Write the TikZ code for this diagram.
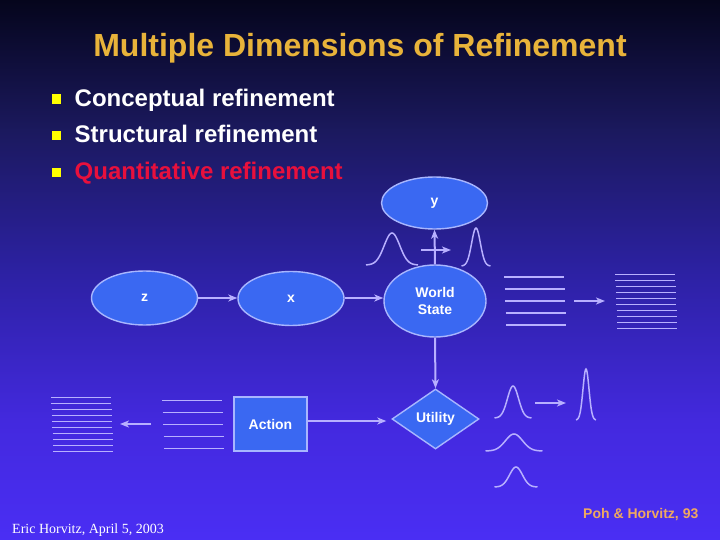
\documentclass[tikz,border=0pt]{standalone}
\usepackage{fontspec}
\setmainfont{Liberation Sans}
\newfontfamily\footserif{Liberation Serif}
\usetikzlibrary{shapes.geometric,arrows.meta}
\definecolor{bgA}{HTML}{05051C}
\definecolor{bgB}{HTML}{1B195E}
\definecolor{bgC}{HTML}{2C21A2}
\definecolor{bgD}{HTML}{4329DE}
\definecolor{bgE}{HTML}{4A2EF4}
\definecolor{titlegold}{HTML}{E8B33A}
\definecolor{bulletyellow}{HTML}{FFFF00}
\definecolor{quantred}{HTML}{E8103C}
\definecolor{nodefill}{HTML}{3A68F2}
\definecolor{nodeline}{HTML}{A8B6FF}
\definecolor{lav}{HTML}{B8B0FF}
\definecolor{cite}{HTML}{F0A860}
\newcommand\bellcurve[4]{%
  \draw[curve] plot[domain=-1:1,samples=41,smooth]
    ({#1+#2*\x},{#3-#4*exp(-((\x)*(\x))/(2*0.3*0.3))});}
\begin{document}
\begin{tikzpicture}[x=1pt,y=-1pt,
  every node/.style={inner sep=0pt},
  ell/.style={ellipse,draw=nodeline,fill=nodefill,line width=1.4pt,text=white,
    font=\bfseries\fontsize{14}{16.7}\selectfont,align=center},
  conn/.style={draw=lav,line width=2pt,-{Stealth[length=9pt,width=7pt,inset=2.5pt]}},
  rule/.style={draw=lav,line width=1.1pt},
  curve/.style={draw=lav,line width=1.5pt},
  bul/.style={fill=bulletyellow,minimum size=9.5pt},
  bultext/.style={anchor=base west,font=\bfseries\fontsize{24}{28}\selectfont}]
\useasboundingbox (0,0) rectangle (720,540);
% background
\shade[top color=bgA,bottom color=bgB] (0,0) rectangle (720,131);
\shade[top color=bgB,bottom color=bgC] (0,130) rectangle (720,271);
\shade[top color=bgC,bottom color=bgD] (0,270) rectangle (720,421);
\shade[top color=bgD,bottom color=bgE] (0,420) rectangle (720,540);
% title
\node[anchor=base,text=titlegold,font=\bfseries\fontsize{32}{38}\selectfont] (title) at (360,57) {Multiple Dimensions of Refinement};
% bullets
\node[bul] (b1) at (56.5,99) {};
\node[bul] (b2) at (56.5,135.5) {};
\node[bul] (b3) at (56.5,172.5) {};
\node[bultext,text=white] (t1) at (74.5,107) {Conceptual refinement};
\node[bultext,text=white] (t2) at (74.5,143) {Structural refinement};
\node[bultext,text=quantred] (t3) at (74.5,179.5) {Quantitative refinement};
% nodes
\node[ell,minimum width=106pt,minimum height=52pt] (y) at (434.5,203) {y};
\node[ell,minimum width=106pt,minimum height=54pt] (z) at (144.5,298) {z};
\node[ell,minimum width=106pt,minimum height=54pt] (x) at (291,298.5) {x};
\node[ell,minimum width=102pt,minimum height=72pt] (ws) at (435,301) {World\\State};
\node[draw=nodeline,fill=nodefill,line width=1.4pt,minimum width=73pt,minimum height=54pt,
  text=white,font=\bfseries\fontsize{14}{16.7}\selectfont] (act) at (270.5,424) {Action};
\node[diamond,draw=nodeline,fill=nodefill,line width=1.4pt,minimum width=87pt,minimum height=60pt,
  text=white,font=\bfseries\fontsize{14}{16.7}\selectfont] (util) at (435.5,419) {Utility};
% connectors
\draw[conn] (z.east) -- (z.east -| x.west);
\draw[conn] (x.east |- 0,298) -- (ws.west |- 0,298);
\draw[conn] (ws.north) -- (y.south);
\draw[conn] (ws.south) -- (util.north);
\draw[conn,shorten >=5pt] (act.east |- 0,421) -- (util.west |- 0,421);
% small arrow crossing the ws->y line
\coordinate (ha1) at (421,250);
\coordinate (ha2) at (451,250);
\draw[conn] (ha1) -- (ha2);
% bell curves near y
\bellcurve{392}{26}{265}{32}
\bellcurve{476}{14.5}{266}{38}
% bell curves near utility
\bellcurve{513}{18.5}{418}{32}
\bellcurve{586}{10}{420}{51}
\bellcurve{514}{28.5}{451}{17}
\bellcurve{516}{21.5}{487}{20}
\coordinate (ga1) at (535,403);
\coordinate (ga2) at (566,403);
\draw[conn] (ga1) -- (ga2);
% line groups, upper right
\foreach \i in {0,...,4} {
  \draw[rule] ({504+0.5*\i},{277+12*\i}) -- ({564+0.5*\i},{277+12*\i});
}
\foreach \i in {0,...,9} {
  \draw[rule] ({615+0.25*\i},{274.3+6.04*\i}) -- ({675+0.25*\i},{274.3+6.04*\i});
}
\coordinate (ra1) at (574,301);
\coordinate (ra2) at (605,301);
\draw[conn] (ra1) -- (ra2);
% line groups, lower left
\foreach \i in {0,...,9} {
  \draw[rule] ({51+0.25*\i},{397.3+6*\i}) -- ({111+0.25*\i},{397.3+6*\i});
}
\foreach \i in {0,...,4} {
  \draw[rule] ({162+0.5*\i},{400.3+12*\i}) -- ({222+0.5*\i},{400.3+12*\i});
}
\coordinate (la1) at (151,424);
\coordinate (la2) at (120,424);
\draw[conn] (la1) -- (la2);
% footers
\node[anchor=base west,text=cite,font=\bfseries\fontsize{14}{16}\selectfont] (cite) at (583,518) {Poh \& Horvitz, 93};
\node[anchor=base west,text=white,font=\footserif\fontsize{14}{16}\selectfont] (foot) at (12,533) {Eric Horvitz, April 5, 2003};
\end{tikzpicture}
\end{document}
